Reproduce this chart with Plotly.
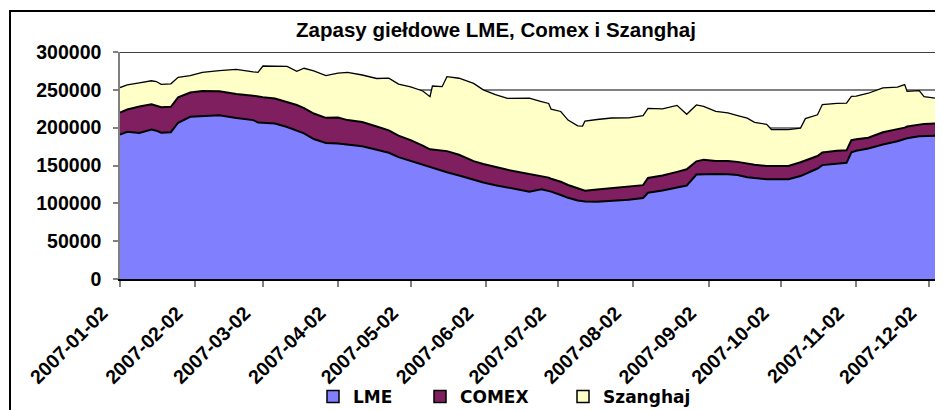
import plotly.graph_objects as go

dates = ["2007-01-02","2007-01-05","2007-01-10","2007-01-15","2007-01-17","2007-01-19","2007-01-23","2007-01-26","2007-01-31",
         "2007-02-05","2007-02-12","2007-02-19","2007-02-26","2007-02-28",
         "2007-03-02","2007-03-07","2007-03-12","2007-03-16","2007-03-19","2007-03-23","2007-03-28",
         "2007-04-02","2007-04-06","2007-04-12","2007-04-18","2007-04-23","2007-04-27",
         "2007-05-02","2007-05-07","2007-05-10","2007-05-11","2007-05-15","2007-05-17","2007-05-22","2007-05-28",
         "2007-06-01","2007-06-06","2007-06-11","2007-06-15","2007-06-20","2007-06-25","2007-06-28","2007-06-29",
         "2007-07-03","2007-07-06","2007-07-10","2007-07-12","2007-07-13","2007-07-18","2007-07-24","2007-07-31",
         "2007-08-06","2007-08-08","2007-08-14","2007-08-20","2007-08-24","2007-08-28","2007-08-31",
         "2007-09-05","2007-09-10","2007-09-14","2007-09-18","2007-09-21","2007-09-26","2007-09-28",
         "2007-10-05","2007-10-10","2007-10-12","2007-10-17","2007-10-19","2007-10-25","2007-10-29","2007-10-31",
         "2007-11-02","2007-11-07","2007-11-13","2007-11-19","2007-11-22","2007-11-23","2007-11-28","2007-11-30",
         "2007-12-05","2007-12-07"]

lme = [191000,194500,193000,197500,196000,193400,194000,206500,214300,
       215400,216300,212700,210000,206800,
       206600,205500,200800,196000,192500,185000,179800,
       179200,177900,175500,170900,166800,161000,
       156100,151200,148000,147000,142500,141000,136700,130700,
       127500,124000,121200,119000,115500,118500,116500,115500,
       111000,107300,103700,102800,102500,102200,103000,104900,
       107000,114000,117000,121000,123500,138000,138500,
       138800,138400,137400,134500,133300,131800,131800,
       131800,136000,139000,146000,150500,152500,153500,167500,
       169500,172500,177800,182000,185000,186000,188500,189000,
       189500,188100]

comex = [29000,29500,35000,33400,33000,33500,33500,33500,32200,
         33100,31900,31700,32300,34200,
         33500,33000,32600,34000,33300,33700,33200,
         34100,32100,31900,30600,29700,28500,
         27400,25000,23400,24000,26800,28000,27500,25100,
         24500,23800,23100,22800,23500,18000,17500,17000,
         17500,16900,15800,14500,14200,16200,17300,18100,
         17000,19500,19800,20600,21500,17500,19000,
         17200,17500,17400,17800,17700,17500,17500,
         17700,18300,17500,16500,16700,17100,16500,16000,
         15200,14300,16100,15600,15000,15500,15500,16000,
         16100,15400]

szanghaj = [33000,32500,31300,31100,32000,30400,30500,26500,22200,
            24500,27300,32600,31500,32200,
            41400,42500,47600,44500,52700,56300,55700,
            58800,63000,62200,63500,69000,68000,
            70500,72300,69600,84000,84900,98400,101100,102700,
            98000,95800,94500,97000,100000,98000,98000,92000,
            92900,85800,83000,84700,92100,92400,92500,90000,
            91800,92100,88000,87900,72700,74500,70500,
            65500,63600,61200,60200,56000,55200,48200,
            47800,45200,55500,54500,63300,62400,62500,58000,
            56900,58700,58600,55900,57000,46500,44900,36000,
            33200,28700]

tick_vals = ["2007-01-02","2007-02-02","2007-03-02","2007-04-02","2007-05-02","2007-06-02",
             "2007-07-02","2007-08-02","2007-09-02","2007-10-02","2007-11-02","2007-12-02"]
tick_text = tick_vals

series = [("LME", lme, "#8080FF", "legend", 2),
          ("COMEX", comex, "#7F1F5F", "legend2", 2),
          ("Szanghaj", szanghaj, "#FFFFC8", "legend3", 1.3)]

fig = go.Figure()
for name, vals, col, lg, lw in series:
    fig.add_trace(go.Scatter(x=dates, y=vals, name=name, stackgroup="one", mode="lines",
                             line=dict(color="#000000", width=lw), fillcolor=col,
                             showlegend=False, hoverinfo="skip"))
for name, vals, col, lg, lw in series:
    fig.add_trace(go.Scatter(x=[None], y=[None], name=name, mode="markers",
                             marker=dict(symbol="square", size=12, color=col,
                                         line=dict(color="#000000", width=1.5)),
                             legend=lg, showlegend=True))

# page has an 8px body margin: figure is offset by (8, 8)
OFF = 8
PL, PR, PT, PB = 120, 941, 52, 279   # plot area in page pixels
PW, PH = PR - PL, PB - PT

leg_font = dict(family="DejaVu Sans", size=17, color="#000000", weight="bold")
def leg(xpx):
    return dict(x=(xpx - PL) / PW, y=(PB - 397) / PH, xanchor="left", yanchor="middle",
                orientation="h", font=leg_font, bgcolor="rgba(0,0,0,0)", borderwidth=0,
                itemwidth=30)

tick_font = dict(family="Liberation Sans", size=19.5, color="#000000", weight="bold")

W, H = 943 - OFF, 410 - OFF
fig.update_layout(
    width=W, height=H,
    margin=dict(l=PL - OFF, r=943 - PR, t=PT - OFF, b=410 - PB, autoexpand=False),
    paper_bgcolor="#FFFFFF", plot_bgcolor="#FFFFFF",
    title=dict(text="Zapasy giełdowe LME, Comex i Szanghaj", x=(496 - OFF) / W, xanchor="center",
               y=1 - (30 - OFF) / H, yanchor="middle",
               font=dict(family="Liberation Sans", size=20.5, color="#000000", weight="bold")),
    legend=leg(313), legend2=leg(420), legend3=leg(563),
    xaxis=dict(type="date", range=["2007-01-02", "2007-12-07"], tickmode="array",
               tickvals=tick_vals, ticktext=tick_text, tickangle=-45, tickfont=tick_font,
               ticks="outside", ticklen=6, tickcolor="#808080", tickwidth=1.5,
               ticklabelshift=-18, ticklabelstandoff=7, automargin=False,
               showline=True, linecolor="#000000", linewidth=2, showgrid=False, zeroline=False),
    yaxis=dict(range=[0, 300000], dtick=50000, tickformat="d", tickfont=tick_font,
               ticks="outside", ticklen=5, tickcolor="#808080", tickwidth=1.5,
               showline=True, linecolor="#808080", linewidth=1.5, automargin=False,
               showgrid=True, gridcolor="#808080", gridwidth=1.5, zeroline=False,
               ticklabelstandoff=8),
    shapes=[
        dict(type="line", xref="paper", yref="y", x0=0, x1=1, y0=300000, y1=300000,
             line=dict(color="#000000", width=1.5)),
        dict(type="rect", xref="paper", yref="paper", x0=(10 - PL) / PW, x1=(970 - PL) / PW,
             y0=(PB - 430) / PH, y1=(PB - 11) / PH, line=dict(color="#000000", width=2),
             fillcolor="rgba(0,0,0,0)", layer="above"),
    ],
)

fig.write_html("out.html")
